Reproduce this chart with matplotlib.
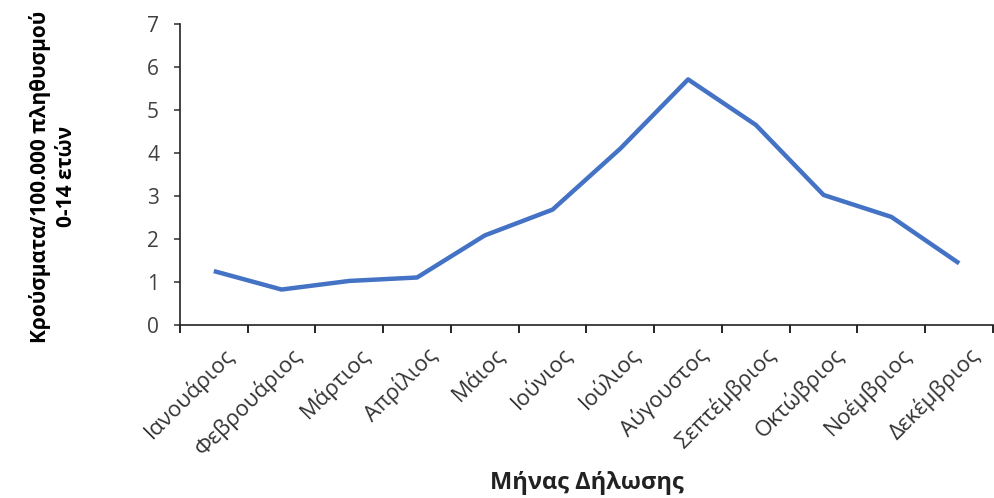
import matplotlib
matplotlib.use("Agg")
import matplotlib.pyplot as plt
import matplotlib.transforms as mtransforms
import numpy as np

# κρούσματα ανά μήνα δήλωσης
months = ["Ιανουάριος", "Φεβρουάριος", "Μάρτιος", "Απρίλιος", "Μάιος", "Ιούνιος",
          "Ιούλιος", "Αύγουστος", "Σεπτέμβριος", "Οκτώβριος", "Νοέμβριος", "Δεκέμβριος"]
rates = [1.26, 0.83, 1.03, 1.11, 2.09, 2.69, 4.11, 5.72, 4.66, 3.03, 2.52, 1.44]
yticks = [0, 1, 2, 3, 4, 5, 6, 7]

plt.rcParams["font.family"] = ["Open Sans", "DejaVu Sans"]

fig = plt.figure(figsize=(9.94, 4.98), dpi=100)
ax = fig.add_axes([0.181, 0.347, 0.818, 0.604])

x = np.arange(len(months))
ax.plot(x, rates, color="#4472C4", linewidth=3.2, solid_capstyle="butt")

ax.set_xlim(-0.5, len(months) - 0.5)
ax.set_ylim(0, 7)
ax.set_yticks(yticks)
ax.tick_params(axis="y", length=4, width=1.2, pad=11, labelsize=15, colors="#404040")

# ετικέτες στο κέντρο κάθε κατηγορίας, γραμμές υποδιαίρεσης στα όρια
ax.set_xticks(x)
ax.set_xticklabels(months, rotation=45, ha="right", va="center", rotation_mode="anchor")
ax.set_xticks(np.arange(-0.5, len(months)), minor=True)
ax.tick_params(axis="x", which="major", length=0, pad=19, labelsize=16, colors="#333333")
ax.tick_params(axis="x", which="minor", length=6, width=1.2)
shift = mtransforms.ScaledTranslation(0.17, 0, fig.dpi_scale_trans)
for lbl in ax.get_xticklabels():
    lbl.set_transform(lbl.get_transform() + shift)

for s in ["top", "right"]:
    ax.spines[s].set_visible(False)
for s in ["left", "bottom"]:
    ax.spines[s].set_linewidth(1.2)
    ax.spines[s].set_color("#222222")

fig.text(0.053, 0.645, "Κρούσματα/100.000 πληθυσμού\n0-14 ετών", rotation=90,
         ha="center", va="center", fontsize=15, fontweight="bold", linespacing=1.3)
fig.text(0.59, 0.03, "Μήνας Δήλωσης", ha="center", va="center",
         fontsize=17, fontweight="bold", color="#222222")

fig.savefig("out.png", dpi=100)
